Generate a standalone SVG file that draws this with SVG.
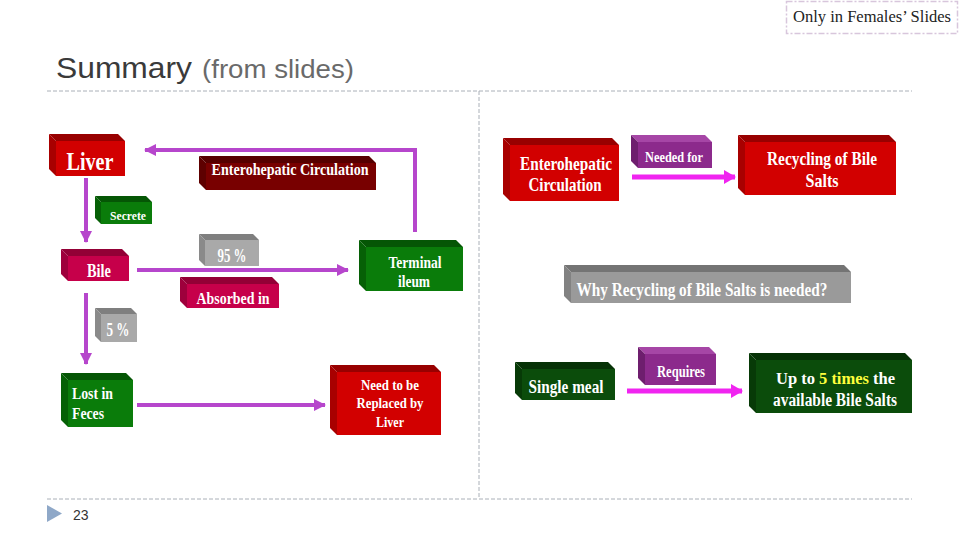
<svg xmlns="http://www.w3.org/2000/svg" width="960" height="540" viewBox="0 0 960 540">
<style>
.t{font-family:"Liberation Serif","Times New Roman",serif;font-weight:bold;fill:#fff;text-anchor:middle}
.s{text-anchor:start}
.hdr{font-family:"Liberation Sans",Arial,sans-serif}
.red .f{fill:#d20000}.red .tp{fill:#980000}.red .l{fill:#a80000}
.dred .f{fill:#780000}.dred .tp{fill:#560000}.dred .l{fill:#5e0000}
.crim .f{fill:#c6004a}.crim .tp{fill:#930036}.crim .l{fill:#9e003c}
.grn .f{fill:#0a7c0a}.grn .tp{fill:#055605}.grn .l{fill:#066006}
.dgrn .f{fill:#0b4c0b}.dgrn .tp{fill:#063206}.dgrn .l{fill:#073a07}
.gry .f{fill:#a9a9a9}.gry .tp{fill:#7f7f7f}.gry .l{fill:#8a8a8a}
.gry2 .f{fill:#9a9a9a}.gry2 .tp{fill:#747474}.gry2 .l{fill:#828282}
.pur .f{fill:#8c2a8c}.pur .tp{fill:#a646a6}.pur .l{fill:#6e1e6e}
.ca{stroke:#b646cc;stroke-width:4;fill:none}
.cm{stroke:#f024f0;stroke-width:5;fill:none}
.dash{stroke:#aab0b8;stroke-width:1;stroke-dasharray:4,2;fill:none}
</style>
<defs>
<marker id="ah" markerUnits="userSpaceOnUse" viewBox="0 0 12 12" refX="11" refY="6" markerWidth="12" markerHeight="12" orient="auto">
<path d="M0,0 L12,6 L0,12 Z" fill="#b646cc"/>
</marker>
<marker id="am" markerUnits="userSpaceOnUse" viewBox="0 0 12 14" refX="11" refY="7" markerWidth="12" markerHeight="14" orient="auto">
<path d="M0,0 L12,7 L0,14 Z" fill="#f024f0"/>
</marker>
</defs>
<rect width="960" height="540" fill="#fff"/>

<g id="header">
<text class="hdr" x="56" y="78" font-size="30" fill="#3a3a3a" textLength="136" lengthAdjust="spacingAndGlyphs">Summary</text>
<text class="hdr" x="202" y="78" font-size="26" fill="#6a6a6a" textLength="152" lengthAdjust="spacingAndGlyphs">(from slides)</text>
<rect x="786.5" y="1.5" width="171" height="32" fill="none" stroke="#d8c6dc" stroke-width="1.5" stroke-dasharray="6,2,2,2"/>
<text x="872" y="22" font-family="Liberation Serif,serif" font-size="16" fill="#222" text-anchor="middle" textLength="158" lengthAdjust="spacingAndGlyphs">Only in Females’ Slides</text>
</g>
<g id="frame">
<line class="dash" x1="47" y1="91" x2="912" y2="91"/>
<line class="dash" x1="479" y1="91" x2="479" y2="499"/>
<line class="dash" x1="47" y1="499" x2="912" y2="499"/>
<path d="M47,505 L62,513.5 L47,522 Z" fill="#8fa8c8"/>
<text class="hdr" x="73" y="520" font-size="14" fill="#333">23</text>
</g>

<g id="connectors">
<line class="ca" x1="86" y1="178" x2="86" y2="242" marker-end="url(#ah)"/>
<line class="ca" x1="137" y1="270" x2="348" y2="270" marker-end="url(#ah)"/>
<line class="ca" x1="86" y1="293" x2="86" y2="364" marker-end="url(#ah)"/>
<line class="ca" x1="137" y1="405" x2="325" y2="405" marker-end="url(#ah)"/>
<polyline class="ca" points="415,232 415,150 145,150" marker-end="url(#ah)"/>
<line class="cm" x1="632" y1="177" x2="735" y2="177" marker-end="url(#am)"/>
<line class="cm" x1="627" y1="391" x2="742" y2="391" marker-end="url(#am)"/>
</g>

<g id="liver" class="red">
<polygon class="tp" points="49,134 118,134 125,141 56,141"/><polygon class="l" points="49,134 56,141 56,176 49,169"/><rect class="f" x="56" y="141" width="69" height="35"/>
<text class="t" x="90" y="170" font-size="25" textLength="47" lengthAdjust="spacingAndGlyphs">Liver</text>
</g>
<g id="enterohepatic-left" class="dred">
<polygon class="tp" points="199,156 369,156 376,163 206,163"/><polygon class="l" points="199,156 206,163 206,190 199,183"/><rect class="f" x="206" y="163" width="170" height="27"/>
<text class="t" x="290" y="175" font-size="16" textLength="157" lengthAdjust="spacingAndGlyphs">Enterohepatic Circulation</text>
</g>
<g id="secrete" class="grn">
<polygon class="tp" points="95,196 146,196 152,202 101,202"/><polygon class="l" points="95,196 101,202 101,224 95,218"/><rect class="f" x="101" y="202" width="51" height="22"/>
<text class="t" x="128" y="220" font-size="13" textLength="36" lengthAdjust="spacingAndGlyphs">Secrete</text>
</g>
<g id="bile" class="crim">
<polygon class="tp" points="61,249 122,249 129,256 68,256"/><polygon class="l" points="61,249 68,256 68,281 61,274"/><rect class="f" x="68" y="256" width="61" height="25"/>
<text class="t" x="99" y="277" font-size="18" textLength="24" lengthAdjust="spacingAndGlyphs">Bile</text>
</g>
<g id="pct95" class="gry">
<polygon class="tp" points="199,234 253,234 259,240 205,240"/><polygon class="l" points="199,234 205,240 205,266 199,260"/><rect class="f" x="205" y="240" width="54" height="26"/>
<text class="t" x="232" y="262" font-size="18" textLength="29" lengthAdjust="spacingAndGlyphs">95 %</text>
</g>
<g id="terminal-ileum" class="grn">
<polygon class="tp" points="359,240 456,240 463,247 366,247"/><polygon class="l" points="359,240 366,247 366,291 359,284"/><rect class="f" x="366" y="247" width="97" height="44"/>
<text class="t" x="415" y="268" font-size="17" textLength="53" lengthAdjust="spacingAndGlyphs">Terminal</text>
<text class="t" x="414" y="287" font-size="17" textLength="32" lengthAdjust="spacingAndGlyphs">ileum</text>
</g>
<g id="absorbed-in" class="crim">
<polygon class="tp" points="180,277 272,277 279,284 187,284"/><polygon class="l" points="180,277 187,284 187,308 180,301"/><rect class="f" x="187" y="284" width="92" height="24"/>
<text class="t" x="233" y="304" font-size="16" textLength="73" lengthAdjust="spacingAndGlyphs">Absorbed in</text>
</g>
<g id="pct5" class="gry">
<polygon class="tp" points="95,308 131,308 137,314 101,314"/><polygon class="l" points="95,308 101,314 101,342 95,336"/><rect class="f" x="101" y="314" width="36" height="28"/>
<text class="t" x="118" y="336" font-size="18" textLength="23" lengthAdjust="spacingAndGlyphs">5 %</text>
</g>
<g id="lost-in-feces" class="grn">
<polygon class="tp" points="61,373 126,373 133,380 68,380"/><polygon class="l" points="61,373 68,380 68,427 61,420"/><rect class="f" x="68" y="380" width="65" height="47"/>
<text class="t s" x="72" y="399" font-size="16" textLength="41" lengthAdjust="spacingAndGlyphs">Lost in</text>
<text class="t s" x="72" y="419" font-size="16" textLength="32" lengthAdjust="spacingAndGlyphs">Feces</text>
</g>
<g id="need-replaced" class="red">
<polygon class="tp" points="330,365 434,365 441,372 337,372"/><polygon class="l" points="330,365 337,372 337,435 330,428"/><rect class="f" x="337" y="372" width="104" height="63"/>
<text class="t" x="390" y="390" font-size="15" textLength="58" lengthAdjust="spacingAndGlyphs">Need to be</text>
<text class="t" x="390" y="408" font-size="15" textLength="67" lengthAdjust="spacingAndGlyphs">Replaced by</text>
<text class="t" x="390" y="427" font-size="15" textLength="28" lengthAdjust="spacingAndGlyphs">Liver</text>
</g>

<g id="enterohepatic-right" class="red">
<polygon class="tp" points="503,138 612,138 619,145 510,145"/><polygon class="l" points="503,138 510,145 510,201 503,194"/><rect class="f" x="510" y="145" width="109" height="56"/>
<text class="t" x="566" y="170" font-size="19" textLength="92" lengthAdjust="spacingAndGlyphs">Enterohepatic</text>
<text class="t" x="565" y="191" font-size="19" textLength="73" lengthAdjust="spacingAndGlyphs">Circulation</text>
</g>
<g id="needed-for" class="pur">
<polygon class="tp" points="631,135 705,135 712,142 638,142"/><polygon class="l" points="631,135 638,142 638,168 631,161"/><rect class="f" x="638" y="142" width="74" height="26"/>
<text class="t" x="674" y="162" font-size="15" textLength="58" lengthAdjust="spacingAndGlyphs">Needed for</text>
</g>
<g id="recycling" class="red">
<polygon class="tp" points="738,135 889,135 896,142 745,142"/><polygon class="l" points="738,135 745,142 745,195 738,188"/><rect class="f" x="745" y="142" width="151" height="53"/>
<text class="t" x="822" y="165" font-size="19" textLength="110" lengthAdjust="spacingAndGlyphs">Recycling of Bile</text>
<text class="t" x="822" y="187" font-size="19" textLength="33" lengthAdjust="spacingAndGlyphs">Salts</text>
</g>
<g id="why-recycling" class="gry2">
<polygon class="tp" points="564,265 844,265 851,272 571,272"/><polygon class="l" points="564,265 571,272 571,303 564,296"/><rect class="f" x="571" y="272" width="280" height="31"/>
<text class="t" x="702" y="296" font-size="19" textLength="251" lengthAdjust="spacingAndGlyphs">Why Recycling of Bile Salts is needed?</text>
</g>
<g id="single-meal" class="dgrn">
<polygon class="tp" points="515,362 608,362 615,369 522,369"/><polygon class="l" points="515,362 522,369 522,400 515,393"/><rect class="f" x="522" y="369" width="93" height="31"/>
<text class="t" x="566" y="393" font-size="19" textLength="75" lengthAdjust="spacingAndGlyphs">Single meal</text>
</g>
<g id="requires" class="pur">
<polygon class="tp" points="638,347 709,347 716,354 645,354"/><polygon class="l" points="638,347 645,354 645,385 638,378"/><rect class="f" x="645" y="354" width="71" height="31"/>
<text class="t" x="681" y="377" font-size="16" textLength="48" lengthAdjust="spacingAndGlyphs">Requires</text>
</g>
<g id="up-to-5-times" class="dgrn">
<polygon class="tp" points="749,353 905,353 912,360 756,360"/><polygon class="l" points="749,353 756,360 756,413 749,406"/><rect class="f" x="756" y="360" width="156" height="53"/>
<text class="t s" x="776" y="384" font-size="16.5">Up to</text>
<text class="t s" x="819" y="384" font-size="16.5" style="fill:#ffff3c">5 times</text>
<text class="t s" x="873" y="384" font-size="16.5">the</text>
<text class="t" x="835" y="406" font-size="18" textLength="124" lengthAdjust="spacingAndGlyphs">available Bile Salts</text>
</g>
</svg>
